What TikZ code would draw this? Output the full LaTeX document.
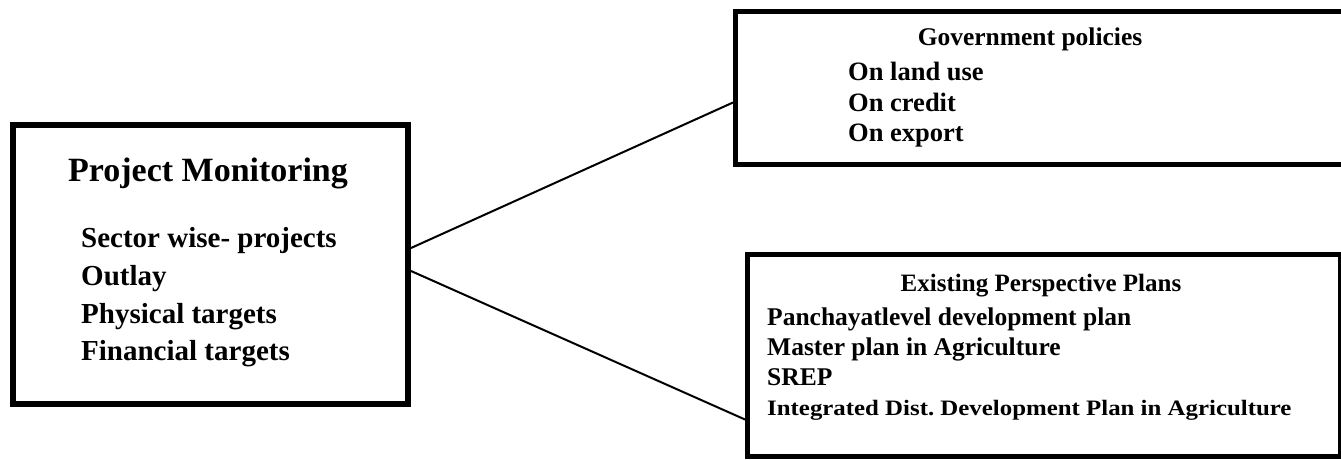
\documentclass[tikz,border=0pt]{standalone}
\usepackage{fontspec}
\setmainfont{Liberation Serif}
\usetikzlibrary{calc}
\begin{document}
\begin{tikzpicture}[x=1pt,y=-1pt,
  panel/.style={draw=black,line width=#1,inner sep=0pt,anchor=north west},
  panel/.default=5pt,
  txt/.style={inner sep=0pt,font=\bfseries\fontsize{#1}{#1}\selectfont},
  link/.style={draw=black,line width=2pt}]
\clip (0,0) rectangle (1341,459);
\fill[white] (0,0) rectangle (1341,459);

% boxes
\node[panel=6pt,minimum width=395pt,minimum height=279pt] (pm) at (10,122) {};
\node[panel,minimum width=640pt,minimum height=153pt] (gp) at (733,9) {};
\node[panel,minimum width=593pt,minimum height=202pt] (ep) at (745,252) {};

% project monitoring
\node[txt=34,anchor=base] (pmt) at (208,181) {Project Monitoring};
\node[txt=29,anchor=base west] (pm1) at (81,247) {Sector wise- projects};
\node[txt=29,anchor=base west] (pm2) at (81,285) {Outlay};
\node[txt=29,anchor=base west] (pm3) at (81,323) {Physical targets};
\node[txt=29,anchor=base west] (pm4) at (81,360) {Financial targets};

% government policies
\node[txt=25.5,anchor=base] (gpt) at (1030,45) {Government policies};
\node[txt=26.5,anchor=base west] (gp1) at (848,80) {On land use};
\node[txt=26.5,anchor=base west] (gp2) at (848,111) {On credit};
\node[txt=26.5,anchor=base west] (gp3) at (848,141) {On export};

% existing perspective plans
\node[txt=25,anchor=base] (ept) at (1041,291) {Existing Perspective Plans};
\node[txt=25.5,anchor=base west] (ep1) at (767,325) {Panchayatlevel development plan};
\node[txt=25.5,anchor=base west] (ep2) at (767,355) {Master plan in Agriculture};
\node[txt=25.5,anchor=base west] (ep3) at (767,385) {SREP};
\node[txt=22,anchor=base west] (ep4) at (767,415) {\addfontfeature{FakeStretch=1.13}Integrated Dist.\ Development Plan in Agriculture};

% connectors
\draw[link] ([yshift=16.5pt]pm.east) -- ([yshift=-14.5pt]gp.west);
\draw[link] ([yshift=-6.5pt]pm.east) -- ([yshift=-64pt]ep.west);
\end{tikzpicture}
\end{document}
